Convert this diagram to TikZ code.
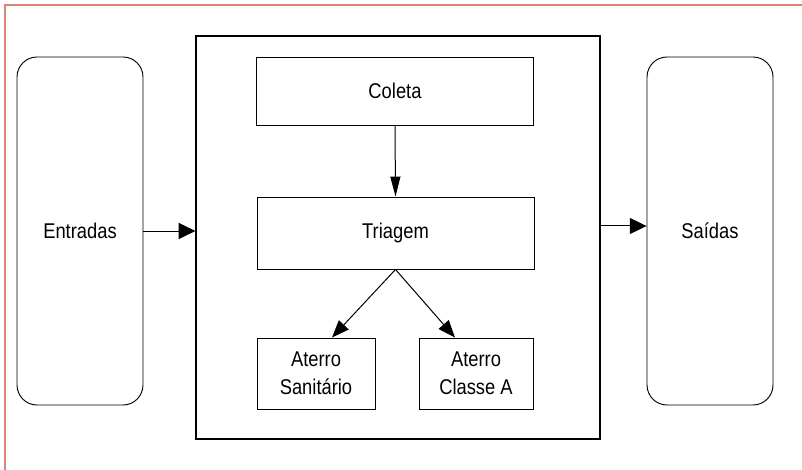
\documentclass[tikz,border=0pt]{standalone}
\usepackage{fontspec}
\setmainfont{Liberation Sans}[FakeStretch=0.86]
\usepackage{xcolor}
\usetikzlibrary{arrows.meta}
\definecolor{framered}{RGB}{220,130,120}
\tikzset{
	caixa/.style={draw, line width=0.7pt, align=center, inner sep=0pt, font=\fontsize{16}{21}\selectfont},
	fluxo/.style={line width=0.75pt, -{Triangle[length=13pt,width=10pt]}},
	fluxoH/.style={line width=0.75pt, -{Triangle[length=12.5pt,width=12pt]}},
	fluxoV/.style={line width=0.75pt, -{Triangle[length=15pt,width=7.5pt]}}
}

\begin{document}
\begin{tikzpicture}[x=0.75pt,y=-0.75pt]
		\useasboundingbox (0,0) rectangle (802,470);

		% Page frame
		\draw[framered, line width=1.1pt] (5,470) -- (5,5) -- (802,5);

		% Inputs and outputs
		\node[caixa, rounded corners=15pt, minimum width=94.5pt, minimum height=261pt] (entradas) at (80,231) {Entradas};
		\node[caixa, rounded corners=15pt, minimum width=94.5pt, minimum height=261pt] (saidas) at (710,231) {Saídas};

		% Process frame
		\node[caixa, line width=0.9pt, minimum width=303pt, minimum height=302.25pt] (processo) at (398,237.5) {};

		% Steps inside the process
		\node[caixa, minimum width=207.75pt, minimum height=51pt] (coleta) at (395,91) {Coleta};
		\node[caixa, minimum width=207.75pt, minimum height=54pt] (triagem) at (395.5,233) {Triagem};
		\node[caixa, minimum width=88.5pt, minimum height=53.25pt] (sanitario) at (316,373.5) {Aterro\\Sanitário};
		\node[caixa, minimum width=85.5pt, minimum height=53.25pt] (classeA) at (476,373.5) {Aterro\\Classe A};

		% Arrows
		\draw[fluxoH] (entradas.east) -- (entradas.east -| processo.west);
		\draw[fluxoH] ([yshift=3.75pt]saidas.west -| processo.east) -- ([yshift=3.75pt]saidas.west);
		\draw[fluxoV] (coleta.south) -- (triagem.north);
		\draw[fluxo] (triagem.south) -- ([xshift=12pt]sanitario.north);
		\draw[fluxo] (triagem.south) -- ([xshift=-15.75pt]classeA.north);
	\end{tikzpicture}
\end{document}
